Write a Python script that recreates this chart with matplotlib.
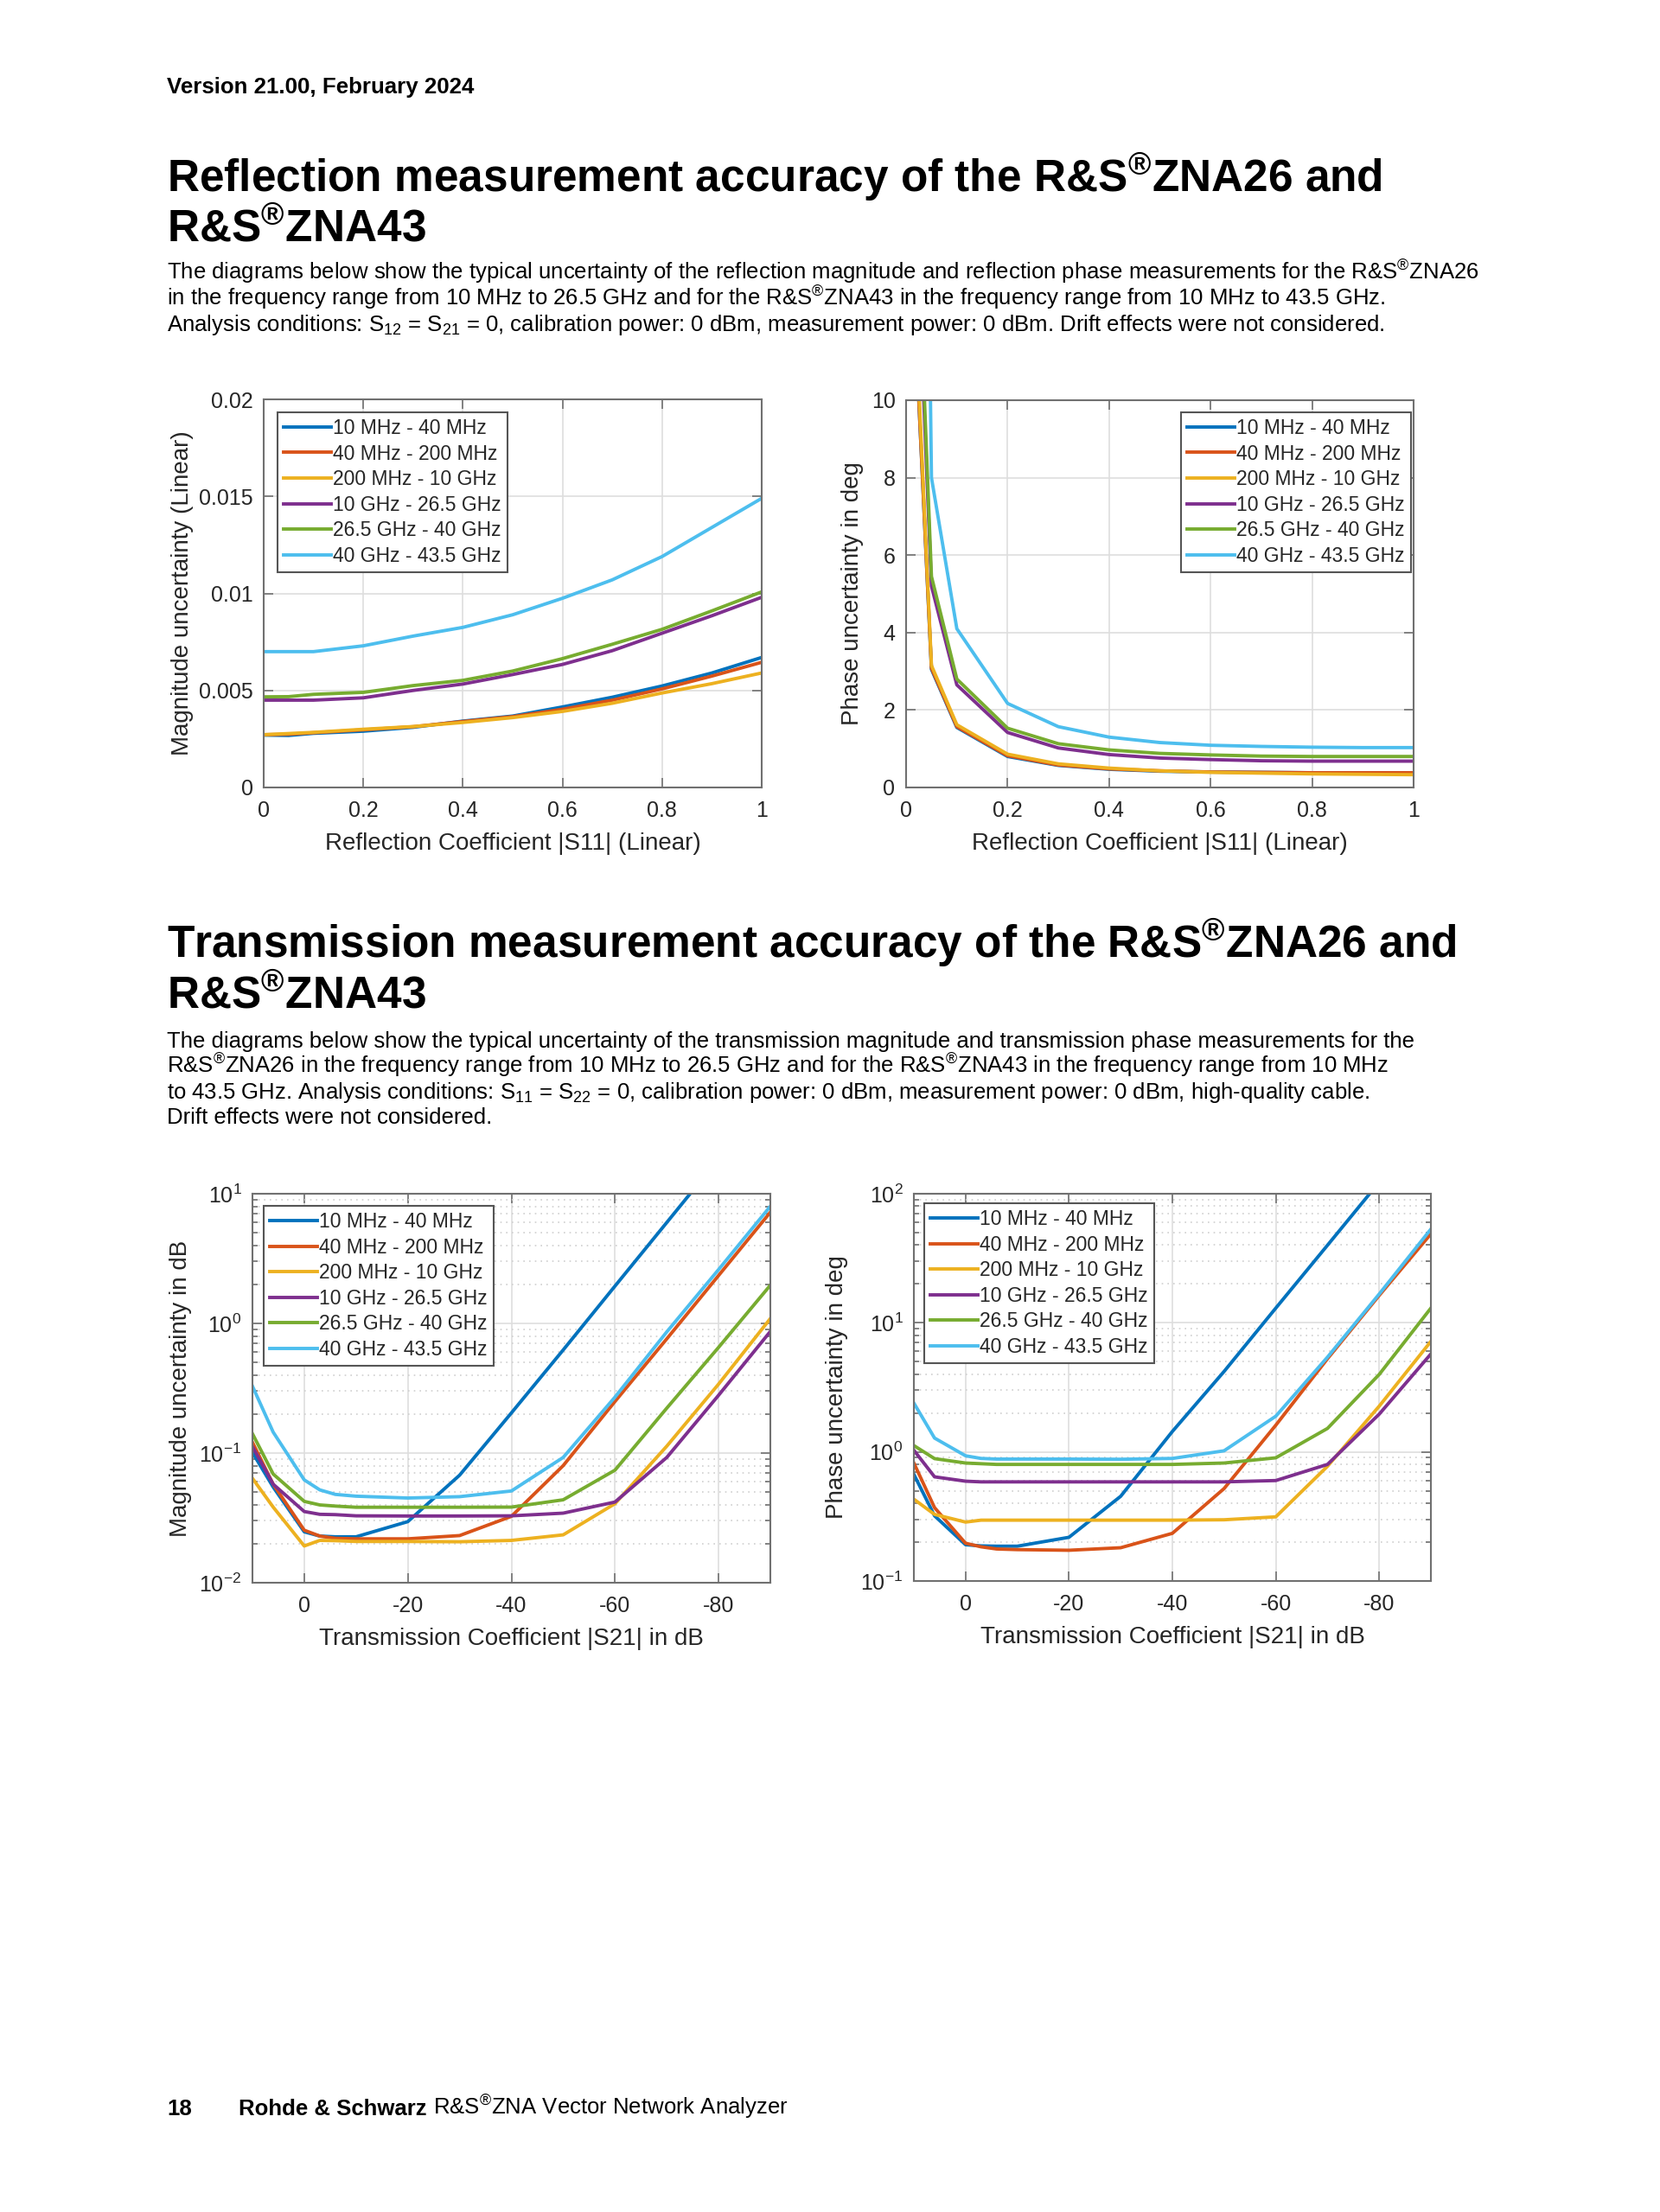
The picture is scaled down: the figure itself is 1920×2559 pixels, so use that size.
import matplotlib
matplotlib.use("Agg")
import matplotlib.pyplot as plt
import numpy as np
from matplotlib.ticker import FixedLocator, LogLocator, NullFormatter

# ---------------- data ----------------
series_labels = ["10 MHz - 40 MHz", "40 MHz - 200 MHz", "200 MHz - 10 GHz",
                 "10 GHz - 26.5 GHz", "26.5 GHz - 40 GHz", "40 GHz - 43.5 GHz"]
series_colors = ["#0072BD", "#D95319", "#EDB120", "#7E2F8E", "#77AC30", "#4DBEEE"]

refl_x = [0, 0.05, 0.1, 0.2, 0.3, 0.4, 0.5, 0.6, 0.7, 0.8, 0.9, 1.0]
refl_mag_1 = [0.0027, 0.00268, 0.00279, 0.0029, 0.0031, 0.00342, 0.00368, 0.00415, 0.00465, 0.00523, 0.0059, 0.0067]
refl_mag_2 = [0.00272, 0.00274, 0.00282, 0.00297, 0.00313, 0.0034, 0.00365, 0.00403, 0.0045, 0.00508, 0.00574, 0.00645]
refl_mag_3 = [0.00272, 0.00278, 0.00284, 0.003, 0.00314, 0.00335, 0.0036, 0.00392, 0.00434, 0.00487, 0.00535, 0.0059]
refl_mag_4 = [0.0045, 0.0045, 0.0045, 0.00462, 0.005, 0.00533, 0.00582, 0.00634, 0.00705, 0.00795, 0.00885, 0.0098]
refl_mag_5 = [0.00467, 0.00468, 0.0048, 0.0049, 0.00525, 0.00552, 0.006, 0.00664, 0.00738, 0.00815, 0.0091, 0.01008]
refl_mag_6 = [0.0070, 0.0070, 0.0070, 0.0073, 0.0078, 0.00825, 0.0089, 0.00975, 0.0107, 0.0119, 0.0134, 0.0149]

refl_ph_1 = [17.0, 3.05, 1.55, 0.80, 0.57, 0.47, 0.42, 0.40, 0.39, 0.38, 0.38, 0.38]
refl_ph_2 = [17.0, 3.08, 1.57, 0.82, 0.58, 0.48, 0.43, 0.40, 0.39, 0.38, 0.38, 0.38]
refl_ph_3 = [17.5, 3.15, 1.62, 0.86, 0.61, 0.50, 0.43, 0.39, 0.37, 0.35, 0.34, 0.33]
refl_ph_4 = [21.0, 5.20, 2.65, 1.42, 1.02, 0.85, 0.76, 0.72, 0.69, 0.68, 0.68, 0.68]
refl_ph_5 = [22.0, 5.45, 2.80, 1.53, 1.13, 0.97, 0.88, 0.84, 0.81, 0.80, 0.80, 0.80]
refl_ph_6 = [60.0, 8.00, 4.10, 2.17, 1.57, 1.30, 1.16, 1.09, 1.06, 1.04, 1.03, 1.03]

trans_x = [10, 6, 0, -3, -6, -10, -20, -30, -40, -50, -60, -70, -80, -90]
trans_mag_1 = [0.101, 0.0547, 0.0247, 0.0229, 0.0226, 0.0226, 0.0296, 0.0675, 0.204, 0.624, 1.94, 6.0, 18.6, 57.0]
trans_mag_2 = [0.121, 0.0575, 0.0254, 0.0229, 0.0220, 0.0218, 0.0218, 0.0231, 0.0325, 0.080, 0.250, 0.76, 2.34, 7.2]
trans_mag_3 = [0.0638, 0.0383, 0.0192, 0.0212, 0.0211, 0.0208, 0.0208, 0.0207, 0.0212, 0.0234, 0.0407, 0.113, 0.34, 1.09]
trans_mag_4 = [0.112, 0.0575, 0.0354, 0.0337, 0.0335, 0.0328, 0.0327, 0.0327, 0.0328, 0.0344, 0.0419, 0.0925, 0.279, 0.867]
trans_mag_5 = [0.141, 0.0689, 0.0424, 0.0398, 0.0390, 0.0382, 0.0382, 0.0382, 0.0383, 0.0436, 0.0738, 0.222, 0.653, 1.97]
trans_mag_6 = [0.328, 0.145, 0.0621, 0.0520, 0.0480, 0.0465, 0.0450, 0.0461, 0.0510, 0.0925, 0.270, 0.86, 2.6, 8.0]

trans_ph_1 = [0.67, 0.32, 0.191, 0.187, 0.186, 0.186, 0.218, 0.453, 1.44, 4.2, 13.0, 39.9, 123.0, 380.0]
trans_ph_2 = [0.82, 0.37, 0.196, 0.184, 0.177, 0.175, 0.173, 0.181, 0.234, 0.52, 1.61, 5.27, 16.3, 48.9]
trans_ph_3 = [0.43, 0.328, 0.286, 0.296, 0.296, 0.296, 0.296, 0.296, 0.296, 0.298, 0.314, 0.774, 2.26, 7.18]
trans_ph_4 = [1.03, 0.641, 0.593, 0.586, 0.586, 0.586, 0.586, 0.586, 0.586, 0.586, 0.60, 0.80, 1.96, 5.74]
trans_ph_5 = [1.12, 0.887, 0.82, 0.81, 0.80, 0.80, 0.80, 0.80, 0.80, 0.82, 0.90, 1.52, 3.98, 13.0]
trans_ph_6 = [2.39, 1.28, 0.933, 0.89, 0.88, 0.88, 0.88, 0.877, 0.89, 1.02, 1.89, 5.42, 16.7, 53.2]

refl_lin_ticks = [0, 0.2, 0.4, 0.6, 0.8, 1]
refl_lin_labels = ["0", "0.2", "0.4", "0.6", "0.8", "1"]
mag_ticks = [0, 0.005, 0.01, 0.015, 0.02]
mag_labels = ["0", "0.005", "0.01", "0.015", "0.02"]
ph_ticks = [0, 2, 4, 6, 8, 10]
ph_labels = ["0", "2", "4", "6", "8", "10"]
trans_ticks = [0, -20, -40, -60, -80]
trans_labels = ["0", "-20", "-40", "-60", "-80"]
tmag_ticks = [1e-2, 1e-1, 1e0, 1e1]
tmag_labels = ["10$^{-2}$", "10$^{-1}$", "10$^{0}$", "10$^{1}$"]
tph_ticks = [1e-1, 1e0, 1e1, 1e2]
tph_labels = ["10$^{-1}$", "10$^{0}$", "10$^{1}$", "10$^{2}$"]

header = "Version 21.00, February 2024"
title1 = ["Reflection measurement accuracy of the R&S$^{®}$ZNA26 and", "R&S$^{®}$ZNA43"]
para1 = [
    "The diagrams below show the typical uncertainty of the reflection magnitude and reflection phase measurements for the R&S$^{®}$ZNA26",
    "in the frequency range from 10 MHz to 26.5 GHz and for the R&S$^{®}$ZNA43 in the frequency range from 10 MHz to 43.5 GHz.",
    "Analysis conditions: S$_{12}$ = S$_{21}$ = 0, calibration power: 0 dBm, measurement power: 0 dBm. Drift effects were not considered.",
]
title2 = ["Transmission measurement accuracy of the R&S$^{®}$ZNA26 and", "R&S$^{®}$ZNA43"]
para2 = [
    "The diagrams below show the typical uncertainty of the transmission magnitude and transmission phase measurements for the",
    "R&S$^{®}$ZNA26 in the frequency range from 10 MHz to 26.5 GHz and for the R&S$^{®}$ZNA43 in the frequency range from 10 MHz",
    "to 43.5 GHz. Analysis conditions: S$_{11}$ = S$_{22}$ = 0, calibration power: 0 dBm, measurement power: 0 dBm, high-quality cable.",
    "Drift effects were not considered.",
]
footer_num = "18"
footer_brand = "Rohde & Schwarz"
footer_rest = "R&S$^{®}$ZNA Vector Network Analyzer"

# ---------------- style ----------------
plt.rcParams.update({
    "font.family": ["Liberation Sans", "DejaVu Sans"],
    "mathtext.fontset": "custom",
    "mathtext.rm": "Liberation Sans",
    "mathtext.sf": "Liberation Sans",
    "mathtext.it": "Liberation Sans:italic",
    "mathtext.bf": "Liberation Sans:bold",
    "mathtext.default": "regular",
})

W, H = 1920, 2559
fig = plt.figure(figsize=(W / 100, H / 100), dpi=100)


def ptext(x, y, s, **kw):
    return fig.text(x / W, 1 - y / H, s, va="baseline", ha="left", color="black", **kw)


def add_ax(l, t, r, b):
    return fig.add_axes([l / W, 1 - b / H, (r - l) / W, (b - t) / H])


TXT = "#262626"


def style(ax, log=False):
    for sp in ax.spines.values():
        sp.set_color("#707070")
        sp.set_linewidth(1.5)
    ax.tick_params(which="both", direction="in", top=True, right=True,
                   colors="#707070", labelcolor=TXT, labelsize=18, width=1.2)
    ax.tick_params(which="major", length=8)
    ax.tick_params(axis="x", which="major", pad=11)
    ax.tick_params(axis="y", which="major", pad=9)
    ax.tick_params(which="minor", length=4)
    ax.grid(True, which="major", color="#dedede", lw=1.2)
    if log:
        ax.grid(True, which="minor", axis="y", color="#cfcfcf", lw=1.2, ls=(0, (1, 3)))
    ax.set_axisbelow(True)


def legend(ax, loc, anchor):
    leg = ax.legend(loc=loc, bbox_to_anchor=anchor, borderaxespad=0, fontsize=16.5,
                    frameon=True, fancybox=False, edgecolor="#555555", framealpha=1,
                    handlelength=2.4, handletextpad=0.1, labelspacing=0.29, borderpad=0.3)
    leg.get_frame().set_linewidth(1.5)
    for t in leg.get_texts():
        t.set_color(TXT)


LW = 2.8

# ---------------- page text ----------------
ptext(193, 108, header, fontsize=18.6, fontweight="bold")
ptext(193, 222, title1[0], fontsize=37, fontweight="bold")
ptext(193, 279, title1[1], fontsize=37, fontweight="bold")
for i, line in enumerate(para1):
    ptext(193, 324 + i * 29.5, line, fontsize=18.5)

ptext(193, 1108, title2[0], fontsize=37, fontweight="bold")
ptext(193, 1166, title2[1], fontsize=37, fontweight="bold")
for i, line in enumerate(para2):
    ptext(193, 1212 + i * 29.3, line, fontsize=18.5)

# ---------------- chart 1: reflection magnitude ----------------
ax1 = add_ax(305, 462, 881, 911)
style(ax1)
for ys, c, lab in zip([refl_mag_1, refl_mag_2, refl_mag_3, refl_mag_4, refl_mag_5, refl_mag_6],
                      series_colors, series_labels):
    ax1.plot(refl_x, ys, color=c, lw=LW, label=lab)
ax1.set_xlim(0, 1)
ax1.set_ylim(0, 0.02)
ax1.set_xticks(refl_lin_ticks)
ax1.set_xticklabels(refl_lin_labels)
ax1.set_yticks(mag_ticks)
ax1.set_yticklabels(mag_labels)
ax1.set_xlabel("Reflection Coefficient |S11| (Linear)", fontsize=20, color=TXT, labelpad=9)
ax1.set_ylabel("Magnitude uncertainty (Linear)", fontsize=20, color=TXT, labelpad=4)
legend(ax1, "upper left", (16 / 576, 1 - 15 / 449))

# ---------------- chart 2: reflection phase ----------------
ax2 = add_ax(1048, 463, 1635, 911)
style(ax2)
for ys, c, lab in zip([refl_ph_1, refl_ph_2, refl_ph_3, refl_ph_4, refl_ph_5, refl_ph_6],
                      series_colors, series_labels):
    ax2.plot(refl_x, ys, color=c, lw=LW, label=lab)
ax2.set_xlim(0, 1)
ax2.set_ylim(0, 10)
ax2.set_xticks(refl_lin_ticks)
ax2.set_xticklabels(refl_lin_labels)
ax2.set_yticks(ph_ticks)
ax2.set_yticklabels(ph_labels)
ax2.set_xlabel("Reflection Coefficient |S11| (Linear)", fontsize=20, color=TXT, labelpad=9)
ax2.set_ylabel("Phase uncertainty in deg", fontsize=20, color=TXT, labelpad=6)
legend(ax2, "upper right", (1 - 3 / 587, 1 - 14 / 448))

# ---------------- chart 3: transmission magnitude ----------------
ax3 = add_ax(292, 1381, 891, 1831)
style(ax3, log=True)
for ys, c, lab in zip([trans_mag_1, trans_mag_2, trans_mag_3, trans_mag_4, trans_mag_5, trans_mag_6],
                      series_colors, series_labels):
    ax3.plot(trans_x, ys, color=c, lw=LW, label=lab)
ax3.set_yscale("log")
ax3.set_xlim(10, -90)
ax3.set_ylim(1e-2, 1e1)
ax3.set_xticks(trans_ticks)
ax3.set_xticklabels(trans_labels)
ax3.yaxis.set_major_locator(FixedLocator(tmag_ticks))
ax3.set_yticklabels(tmag_labels)
ax3.yaxis.set_minor_locator(LogLocator(base=10, subs=np.arange(2, 10)))
ax3.yaxis.set_minor_formatter(NullFormatter())
ax3.set_xlabel("Transmission Coefficient |S21| in dB", fontsize=20, color=TXT, labelpad=9)
ax3.set_ylabel("Magnitude uncertainty in dB", fontsize=20, color=TXT, labelpad=6)
legend(ax3, "upper left", (13 / 599, 1 - 14 / 450))

# ---------------- chart 4: transmission phase ----------------
ax4 = add_ax(1057, 1381, 1655, 1829)
style(ax4, log=True)
for ys, c, lab in zip([trans_ph_1, trans_ph_2, trans_ph_3, trans_ph_4, trans_ph_5, trans_ph_6],
                      series_colors, series_labels):
    ax4.plot(trans_x, ys, color=c, lw=LW, label=lab)
ax4.set_yscale("log")
ax4.set_xlim(10, -90)
ax4.set_ylim(1e-1, 1e2)
ax4.set_xticks(trans_ticks)
ax4.set_xticklabels(trans_labels)
ax4.yaxis.set_major_locator(FixedLocator(tph_ticks))
ax4.set_yticklabels(tph_labels)
ax4.yaxis.set_minor_locator(LogLocator(base=10, subs=np.arange(2, 10)))
ax4.yaxis.set_minor_formatter(NullFormatter())
ax4.set_xlabel("Transmission Coefficient |S21| in dB", fontsize=20, color=TXT, labelpad=9)
ax4.set_ylabel("Phase uncertainty in deg", fontsize=20, color=TXT, labelpad=10)
legend(ax4, "upper left", (12 / 598, 1 - 11 / 448))

# ---------------- footer ----------------
r = fig.canvas.get_renderer()
ptext(193, 2447, footer_num, fontsize=18.5, fontweight="bold")
tb = ptext(276, 2447, footer_brand, fontsize=18.5, fontweight="bold")
bb = tb.get_window_extent(renderer=r)
ptext(bb.x1 + 8, 2447, footer_rest, fontsize=18.5)

fig.savefig("out.png", dpi=100)
